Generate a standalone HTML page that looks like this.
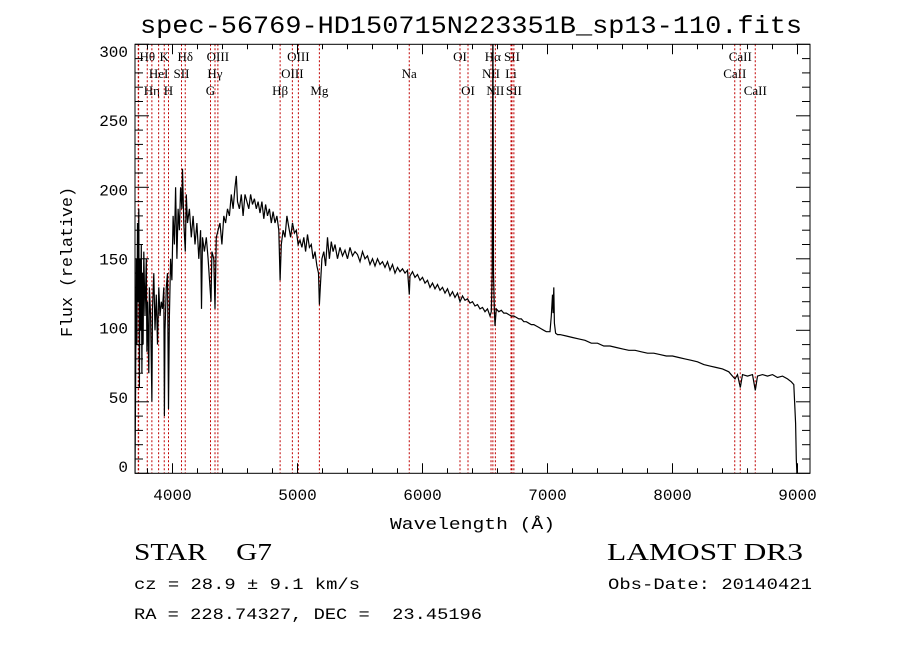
<!DOCTYPE html>
<html><head><meta charset="utf-8"><style>
html,body{margin:0;padding:0;background:#fff;width:900px;height:649px;overflow:hidden}
svg{display:block}
.mono{font-family:"Liberation Mono",monospace}
.serif{font-family:"Liberation Serif",serif}
</style></head><body>
<svg id="chart" width="900" height="649" viewBox="0 0 900 649" xmlns="http://www.w3.org/2000/svg">
<defs><clipPath id="clip"><rect x="135" y="44.3" width="675" height="429"/></clipPath></defs>
<text class="mono" x="471" y="33" font-size="25" text-anchor="middle" textLength="662" lengthAdjust="spacingAndGlyphs">spec-56769-HD150715N223351B_sp13-110.fits</text>
<g id="lines"></g>
<g id="axes"></g>
<path id="spec" clip-path="url(#clip)" fill="none" stroke="#000" stroke-width="1.2" stroke-linejoin="miter"/>
<rect x="135" y="44.3" width="675" height="429" fill="none" stroke="#000" stroke-width="1"/>
<text class="mono" x="390" y="529" font-size="17" textLength="165" lengthAdjust="spacingAndGlyphs">Wavelength (Å)</text>
<text class="mono" font-size="17" text-anchor="middle" textLength="150" lengthAdjust="spacingAndGlyphs" transform="translate(72,262) rotate(-90)">Flux (relative)</text>
<text class="serif" x="134" y="560" font-size="24" textLength="138" lengthAdjust="spacingAndGlyphs">STAR&#160;&#160;&#160;&#160;G7</text>
<text class="serif" x="607" y="560" font-size="24" textLength="196" lengthAdjust="spacingAndGlyphs">LAMOST DR3</text>
<text class="mono" x="134" y="589" font-size="16" textLength="226" lengthAdjust="spacingAndGlyphs">cz = 28.9 ± 9.1 km/s</text>
<text class="mono" x="608" y="589" font-size="16" textLength="204" lengthAdjust="spacingAndGlyphs">Obs-Date: 20140421</text>
<text class="mono" x="134" y="619" font-size="16" textLength="348" lengthAdjust="spacingAndGlyphs" xml:space="preserve">RA = 228.74327, DEC =  23.45196</text>
</svg>
<script>
const waves=[3700,3705,3710,3715,3720,3725,3730,3735,3740,3745,3750,3755,3760,3765,3770,3780,3790,3795,3800,3810,3815,3825,3835,3840,3850,3860,3870,3880,3890,3900,3910,3920,3930,3935,3940,3950,3960,3968,3975,3985,3995,4005,4015,4025,4035,4045,4055,4065,4075,4080,4090,4102,4110,4120,4135,4150,4165,4180,4195,4210,4225,4232,4240,4255,4270,4285,4300,4308,4315,4330,4340,4350,4365,4380,4395,4410,4425,4440,4455,4470,4485,4500,4510,4520,4535,4550,4565,4580,4595,4610,4625,4640,4655,4670,4685,4700,4715,4730,4745,4760,4775,4790,4805,4820,4835,4850,4861,4870,4885,4900,4915,4930,4945,4960,4975,4990,5005,5020,5035,5050,5065,5080,5095,5110,5125,5140,5155,5168,5175,5182,5195,5210,5225,5240,5255,5270,5285,5300,5320,5340,5360,5380,5400,5420,5440,5460,5480,5500,5520,5540,5560,5580,5600,5620,5640,5660,5680,5700,5720,5740,5760,5780,5800,5820,5840,5860,5880,5894,5900,5920,5940,5960,5980,6000,6020,6040,6060,6080,6100,6120,6140,6160,6180,6200,6220,6240,6260,6280,6300,6320,6340,6360,6380,6400,6420,6440,6460,6480,6500,6520,6540,6550,6558,6563,6568,6575,6580,6590,6610,6630,6650,6670,6690,6710,6730,6750,6770,6790,6810,6830,6850,6870,6890,6910,6930,6950,6970,6990,7020,7030,7040,7045,7050,7055,7065,7080,7100,7150,7200,7250,7300,7350,7400,7450,7500,7550,7600,7650,7700,7750,7800,7850,7900,7950,8000,8050,8100,8150,8200,8250,8300,8350,8400,8450,8480,8500,8520,8542,8560,8600,8640,8662,8680,8720,8760,8800,8840,8880,8920,8950,8970,8985,8990,8995];
const flux=[0,60,150,90,175,120,185,60,150,100,160,70,140,90,155,110,150,85,120,70,130,110,50,115,140,100,125,90,130,110,120,115,130,40,100,130,140,45,110,150,135,180,160,200,150,185,170,200,185,213,175,155,195,175,185,165,180,160,175,150,170,115,165,155,165,150,130,120,155,150,115,165,170,175,160,180,175,185,180,195,185,200,208,190,185,195,180,195,190,185,195,188,192,185,190,182,190,178,188,180,185,175,183,175,180,170,135,160,170,165,180,172,165,175,168,170,160,163,158,165,155,167,158,160,150,155,145,140,118,130,150,155,145,165,150,162,155,160,150,158,152,156,150,158,152,155,153,148,155,150,152,146,150,145,150,146,148,144,148,142,146,140,144,141,143,140,142,125,138,141,137,139,135,137,133,135,130,133,129,132,128,130,126,129,124,127,123,126,120,124,121,122,119,120,117,118,115,116,113,115,110,113,140,330,140,113,103,115,113,114,112,112,111,110,110,109,108,108,106,106,105,104,104,103,102,101,100,99,99,110,125,112,130,105,98,97,97,96,95,94,93,91,91,89,89,88,87,86,86,85,84,84,83,82,82,81,80,79,78,76,75,74,73,71,68,66,69,60,69,68,69,58,68,69,68,69,67,68,66,64,62,35,10,0];
const xTicks=[4000,5000,6000,7000,8000,9000];
const yTicks=[0,50,100,150,200,250,300];
const lineWaves=[3798,3835,3889,3934,3968,4072,4102,4304,4340,4363,4861,4959,5007,5175,5894,6300,6364,6548,6563,6583,6708,6716,6731,8498,8542,8662,3726,3729];
const lineNames=["Hθ","Hη","HeI","K","H","SII","Hδ","G","Hγ","OIII","Hβ","OIII","OIII","Mg","Na","OI","OI","NII","Hα","NII","Li","SII","SII","CaII","CaII","CaII","OII","OII"];
const lineRows=[0,2,1,0,2,1,0,2,1,0,2,1,0,2,1,0,2,1,0,2,1,0,2,1,0,2,1,2];
const X0=3700,X1=9100,Y0=0,Y1=300,L=135,R=810,T=44.3,B=473.3;
const sx=w=>L+(w-X0)/(X1-X0)*(R-L);
const sy=v=>B-(v-Y0)/(Y1-Y0)*(B-T);
const NS="http://www.w3.org/2000/svg";
function mk(tag,attrs,parent){const e=document.createElementNS(NS,tag);for(const k in attrs)e.setAttribute(k,attrs[k]);parent.appendChild(e);return e;}
const lg=document.getElementById('lines');
for(let i=0;i<lineWaves.length;i++){
  const x=sx(lineWaves[i]);
  const ln=mk('line',{x1:x,x2:x,y1:T,y2:B,stroke:'#c00000','stroke-width':1,'stroke-dasharray':'2,2'},lg);
  
  
  if(i<26){
    const t=mk('text',{x:x,y:61+lineRows[i]*17,'font-size':13,'text-anchor':'middle','class':'serif'},lg);
    t.textContent=lineNames[i];
    
    
  }
}
const ax=document.getElementById('axes');
for(let w=3800;w<=9100;w+=200){
  const x=sx(w);const major=w%1000===0;const len=major?10:5;
  const a=mk('line',{x1:x,x2:x,y1:B,y2:B-len,stroke:'#000'},ax);
  
  
  const b=mk('line',{x1:x,x2:x,y1:T,y2:T+len,stroke:'#000'},ax);
  
  
}
xTicks.forEach(w=>{
  const t=mk('text',{x:sx(w),y:500,'font-size':16,'text-anchor':'middle','class':'mono'},ax);
  t.textContent=w;
  
  
});
for(let v=0;v<=300;v+=10){
  const y=sy(v);const major=v%50===0;const len=major?14:8;
  const a=mk('line',{x1:L,x2:L+len,y1:y,y2:y,stroke:'#000'},ax);
  
  
  const b=mk('line',{x1:R,x2:R-len,y1:y,y2:y,stroke:'#000'},ax);
  
  
}
yTicks.forEach(v=>{
  const t=mk('text',{x:128,y:51+(300-v)*1.3833+6,'font-size':16,'text-anchor':'end','class':'mono'},ax);
  t.textContent=v;
  
  
});
let d='';
for(let i=0;i<waves.length;i++){d+=(i?'L':'M')+sx(waves[i]).toFixed(1)+','+sy(flux[i]).toFixed(1);}
document.getElementById('spec').setAttribute('d',d);
</script>
</body></html>
